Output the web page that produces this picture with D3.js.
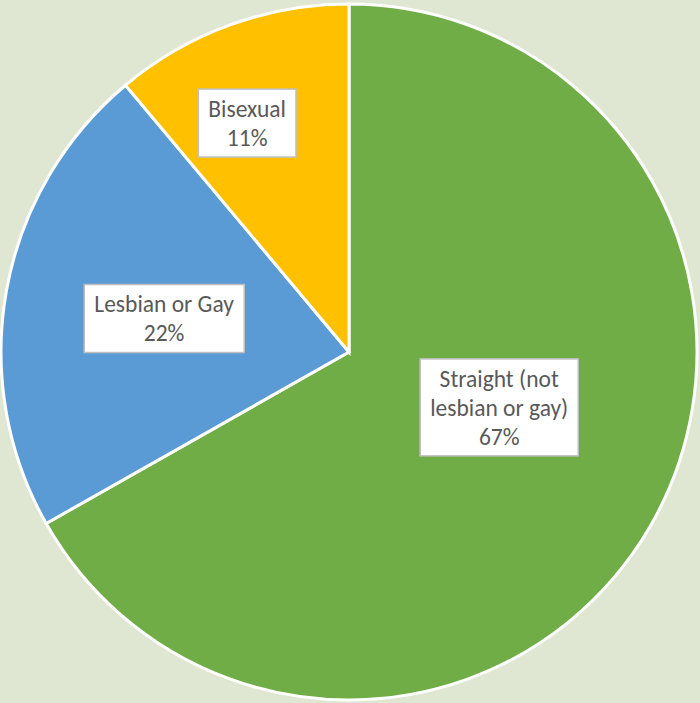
<!DOCTYPE html>
<html>
<head>
<meta charset="utf-8">
<script src="https://cdn.jsdelivr.net/npm/d3@7"></script>
<style>
  html, body { margin: 0; padding: 0; background: #dfe6d1; }
  svg { display: block; }
</style>
</head>
<body>
<div id="chart"></div>
<script>
// data
const categories = ["Straight (not lesbian or gay)", "Lesbian or Gay", "Bisexual"];
const values = [66.8, 22.1, 11.1];
const labelLines = [["Straight (not", "lesbian or gay)"], ["Lesbian or Gay"], ["Bisexual"]];
const colors = ["#70ad47", "#5b9bd5", "#ffc000"];

const width = 700, height = 703;
const cx = 349, cy = 352, radius = 348;
// where the label boxes sit: fraction of radius and angle nudge (degrees)
const labelR = [0.46, 0.54, 0.72];
const labelNudge = [-10, 0, -4];

const svg = d3.select("#chart").append("svg")
    .attr("width", width)
    .attr("height", height);

const g = svg.append("g").attr("transform", `translate(${cx},${cy})`);

const pie = d3.pie().sort(null).value(d => d.value);
const arcs = pie(values.map((v, i) => ({ value: v, i: i })));

const arc = d3.arc().innerRadius(0).outerRadius(radius);

g.selectAll("path.slice").data(arcs).enter().append("path")
    .attr("class", "slice")
    .attr("d", arc)
    .attr("fill", d => colors[d.data.i])
    .attr("stroke", "#fff")
    .attr("stroke-width", 3)
    .attr("stroke-linejoin", "miter");

const lineH = 29;
const labels = g.selectAll("g.lbl").data(arcs).enter().append("g")
    .attr("class", "lbl")
    .attr("transform", d => {
        const i = d.data.i;
        const a = (d.startAngle + d.endAngle) / 2 + labelNudge[i] * Math.PI / 180;
        const r = radius * labelR[i];
        return `translate(${r * Math.sin(a)},${-r * Math.cos(a)})`;
    });

labels.each(function(d) {
    const sel = d3.select(this);
    const i = d.data.i;
    const lines = labelLines[i].concat([Math.round(values[i]) + "%"]);
    const box = sel.append("rect")
        .attr("fill", "#fff")
        .attr("stroke", "#bfbfbf")
        .attr("stroke-width", 1.5);
    const t = sel.append("text")
        .attr("text-anchor", "middle")
        .attr("font-family", "Carlito, Calibri, 'Open Sans', sans-serif")
        .attr("font-size", 23.5)
        .attr("fill", "#595959");
    const y0 = -(lines.length - 1) * lineH / 2;
    lines.forEach((l, k) => {
        t.append("tspan")
            .attr("x", 0)
            .attr("y", y0 + k * lineH)
            .attr("dy", "0.35em")
            .text(l);
    });
    const bb = t.node().getBBox();
    const padX = 10, padY = 5;
    box.attr("x", bb.x - padX)
        .attr("y", -(lines.length * lineH) / 2 - padY)
        .attr("width", bb.width + 2 * padX)
        .attr("height", lines.length * lineH + 2 * padY);
});
</script>
</body>
</html>
